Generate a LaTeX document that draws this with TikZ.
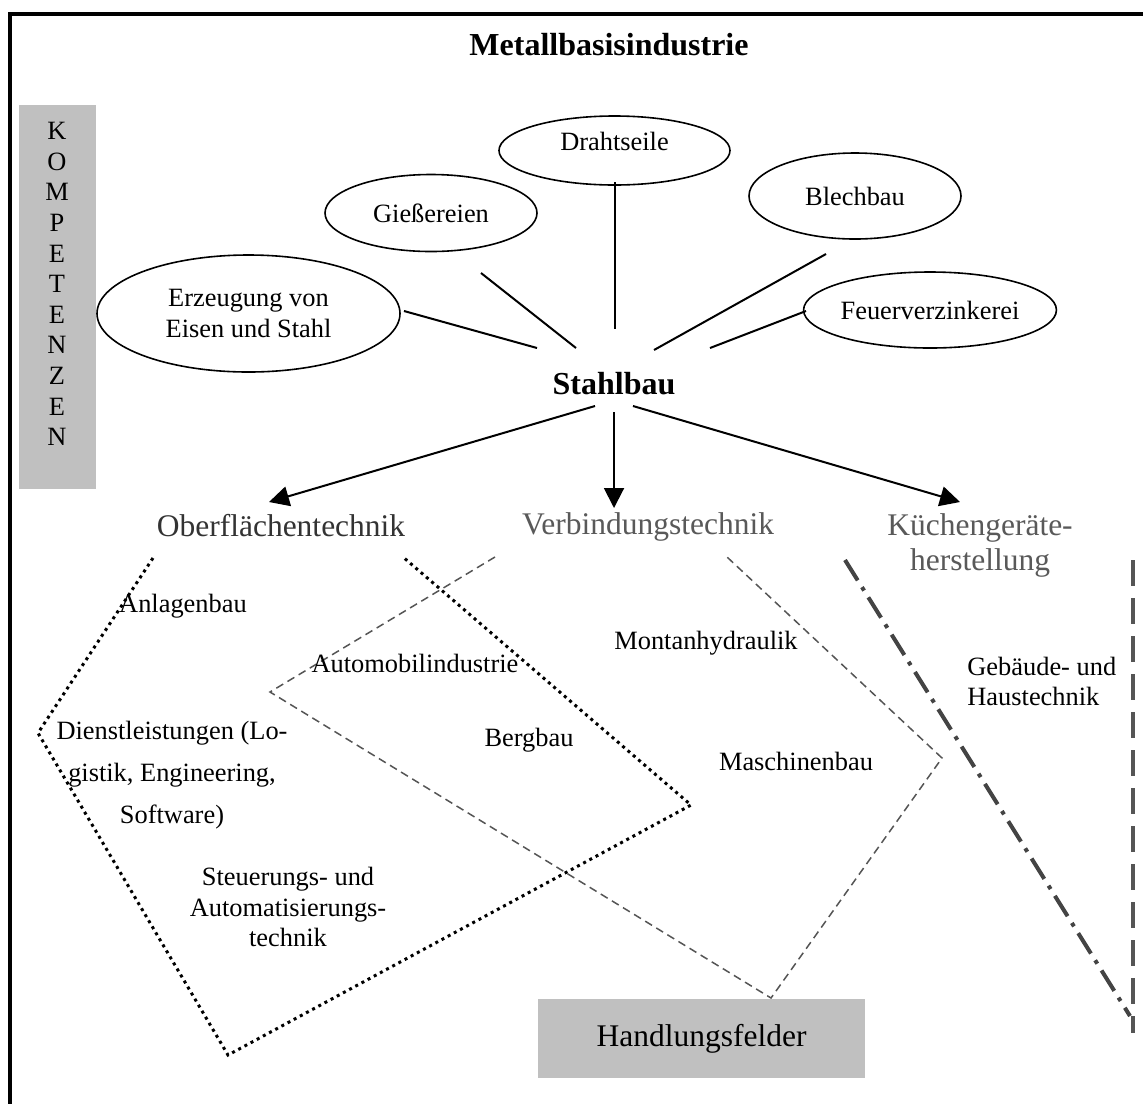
\documentclass[tikz,border=0pt]{standalone}
\usepackage{fontspec}
\setmainfont{Liberation Serif}
\usetikzlibrary{shapes.geometric,arrows.meta}
\definecolor{boxgray}{HTML}{C0C0C0}
\definecolor{darktxt}{HTML}{333333}
\definecolor{midtxt}{HTML}{595959}
\definecolor{lngray}{HTML}{555555}
\definecolor{ddgray}{HTML}{444444}
\begin{document}
\begin{tikzpicture}[x=0.5pt,y=-0.5pt,
  small/.style={font=\fontsize{13.2}{15.5}\selectfont, inner sep=0pt, align=center},
  large/.style={font=\fontsize{15.75}{17.5}\selectfont, inner sep=0pt, align=center},
  boldtxt/.style={font=\fontsize{16}{18}\selectfont\bfseries, inner sep=0pt},
  oval/.style={ellipse, draw, line width=0.8pt, inner sep=0pt, align=center,
    font=\fontsize{13.2}{15.5}\selectfont},
  conn/.style={line width=1pt},
  arr/.style={line width=1pt, -{Triangle[length=10pt,width=10pt]}},
  grayfill/.style={fill=boxgray, inner sep=0pt},
  dotreg/.style={line width=1.5pt, dash pattern=on 1.5pt off 2pt},
  dashreg/.style={lngray, line width=0.75pt, dash pattern=on 4pt off 2.5pt},
  dashdotline/.style={ddgray, line width=2pt, dash pattern=on 12pt off 4pt on 2pt off 4pt},
  vdashline/.style={lngray, line width=2pt, dash pattern=on 13pt off 6pt}
]
\useasboundingbox (0,0) rectangle (1143,1104);
\fill[white] (0,0) rectangle (1143,1104);

% frame
\draw[line width=2pt] (8,14) -- (1143,14);
\draw[line width=2pt] (10,12) -- (10,1104);

% title
\node[boldtxt] (title) at (609,45) {Metallbasisindustrie};

% Kompetenzen
\node[grayfill, minimum width=38.5pt, minimum height=192pt, anchor=north] (kbox) at (57.5,105) {};
\node[font=\fontsize{13.2}{15.3}\selectfont, inner sep=0pt, align=center] (komp) at (57,284)
  {K\\O\\M\\P\\E\\T\\E\\N\\Z\\E\\N};

% ellipses
\node[oval, minimum width=151.5pt, minimum height=58.5pt, font=\fontsize{13.2}{15.5}\selectfont] (erz) at (248.5,313.5) {Erzeugung von\\Eisen und Stahl};
\node[oval, minimum width=106pt, minimum height=38.5pt] (gie) at (431,213) {Gießereien};
\node[oval, minimum width=115.5pt, minimum height=34.5pt, text height=9pt, text depth=9pt] (dra) at (614.5,150.5) {Drahtseile};
\node[oval, minimum width=106pt, minimum height=43pt] (ble) at (855,196) {Blechbau};
\node[oval, minimum width=125pt, minimum height=38pt] (feu) at (930,310) {Feuerverzinkerei};

% Stahlbau
\node[boldtxt] (stahl) at (614,384) {Stahlbau};

% connector end points
\coordinate (e1) at (404,311); \coordinate (s1) at (537,348);
\coordinate (e2) at (481,273); \coordinate (s2) at (576,348);
\coordinate (e3) at (615,182); \coordinate (s3) at (615,329);
\coordinate (e4) at (826,254); \coordinate (s4) at (654,350);
\coordinate (e5) at (806,311); \coordinate (s5) at (710,348);
\draw[conn] (e1) -- (s1);
\draw[conn] (e2) -- (s2);
\draw[conn] (e3) -- (s3);
\draw[conn] (e4) -- (s4);
\draw[conn] (e5) -- (s5);

% three fields
\node[large, text=darktxt] (obf) at (281,526) {Oberflächentechnik};
\node[large, text=midtxt] (ver) at (648,527) {Verbindungstechnik};
\node[large, text=midtxt, font=\fontsize{15.75}{17.5}\selectfont] (kue) at (980,545.5) {Küchengeräte-\\herstellung};

\coordinate (a1) at (595,406); \coordinate (t1) at (269,502);
\coordinate (a2) at (614,412); \coordinate (t2) at (614,508);
\coordinate (a3) at (633,406); \coordinate (t3) at (960,502);
\draw[arr] (a1) -- (t1);
\draw[arr] (a2) -- (t2);
\draw[arr] (a3) -- (t3);

% regions
\draw[dotreg] (153,558) -- (38,733) -- (228,1055) -- (691,805) -- (403,557);
\draw[dashreg] (495,557) -- (270,692) -- (771,998) -- (942,758) -- (727,557);
\draw[dashdotline] (845,560) -- (1130,1016);
\draw[vdashline] (1133,560) -- (1133,1033);

% region labels
\node[small] (anl) at (183,606) {Anlagenbau};
\node[small] (auto) at (415,663) {Automobilindustrie};
\node[small] (mon) at (706,643) {Montanhydraulik};
\node[small, font=\fontsize{13.2}{21}\selectfont] (dien) at (172,775) {Dienstleistungen (Lo-\\gistik, Engineering,\\Software)};
\node[small] (berg) at (529,740) {Bergbau};
\node[small] (masch) at (796,761) {Maschinenbau};
\node[small, font=\fontsize{13.2}{15.2}\selectfont] (steu) at (288,907) {Steuerungs- und\\Automatisierungs-\\technik};
\node[small, align=left, anchor=west, font=\fontsize{13.2}{15}\selectfont] (geb) at (967,681) {Gebäude- und\\Haustechnik};

% Handlungsfelder
\node[grayfill, minimum width=163.5pt, minimum height=39.5pt, font=\fontsize{15.75}{17.5}\selectfont] (hf) at (701.5,1038.5) {Handlungsfelder};
\end{tikzpicture}
\end{document}
